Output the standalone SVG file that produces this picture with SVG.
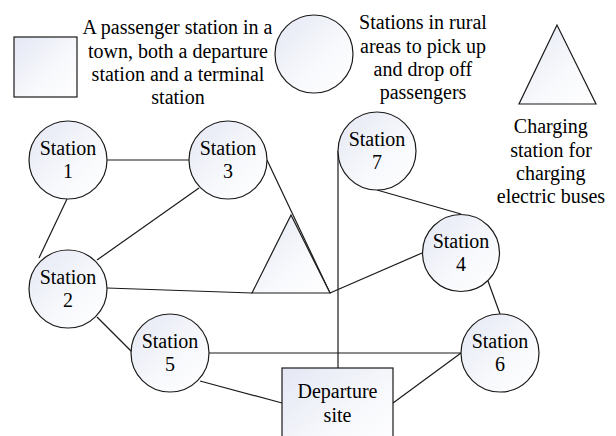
<svg xmlns="http://www.w3.org/2000/svg" width="616" height="436" viewBox="0 0 616 436">
<defs>
<linearGradient id="grad" x1="0" y1="0" x2="1" y2="1">
<stop offset="0" stop-color="#e4e7f4"/>
<stop offset="0.6" stop-color="#f8f9fc"/>
<stop offset="1" stop-color="#ffffff"/>
</linearGradient>
</defs>
<rect width="616" height="436" fill="#ffffff"/>
<g id="connectors" stroke="#1a1a1a" stroke-width="1.2" fill="none">
<line x1="107" y1="160" x2="189" y2="160"/>
<line x1="67" y1="199" x2="39" y2="258"/>
<line x1="199" y1="188" x2="97" y2="260"/>
<line x1="267" y1="160" x2="330" y2="293"/>
<line x1="107" y1="288" x2="252" y2="293"/>
<line x1="330" y1="293" x2="422" y2="253"/>
<line x1="338" y1="151" x2="338" y2="368"/>
<line x1="377" y1="190" x2="461" y2="214"/>
<line x1="488" y1="281" x2="500" y2="314"/>
<line x1="209" y1="353" x2="461" y2="353"/>
<line x1="97" y1="317" x2="132" y2="352"/>
<line x1="200" y1="381" x2="282" y2="403"/>
<line x1="393" y1="403" x2="461" y2="353"/>
</g>
<g font-size="20">
<g id="legend-town">
<rect fill="url(#grad)" stroke="#1a1a1a" stroke-width="1.2" x="14" y="37" width="63" height="60"/>
<text x="82.5" y="34" font-family="Liberation Serif">A passenger station in a</text>
<text x="88" y="58" font-family="Liberation Serif">town, both a departure</text>
<text x="91.6" y="81" font-family="Liberation Serif">station and a terminal</text>
<text x="151.3" y="104" font-family="Liberation Serif">station</text>
</g>
<g id="legend-rural">
<circle fill="url(#grad)" stroke="#1a1a1a" stroke-width="1.2" cx="314" cy="54" r="39"/>
<text x="359.1" y="29" font-family="Liberation Serif">Stations in rural</text>
<text x="360" y="53" font-family="Liberation Serif">areas to pick up</text>
<text x="373.6" y="76" font-family="Liberation Serif">and drop off</text>
<text x="379.7" y="99" font-family="Liberation Serif">passengers</text>
</g>
<g id="legend-charging">
<polygon fill="url(#grad)" stroke="#1a1a1a" stroke-width="1.2" points="557,25 519,104 596,104"/>
<text x="513.8" y="133" font-family="Liberation Serif">Charging</text>
<text x="510.2" y="157" font-family="Liberation Serif">station for</text>
<text x="516" y="180" font-family="Liberation Serif">charging</text>
<text x="496.8" y="203" font-family="Liberation Serif">electric buses</text>
</g>
<g id="station1"><circle fill="url(#grad)" stroke="#1a1a1a" stroke-width="1.2" cx="68" cy="160" r="39"/><text x="39.7" y="154.5" font-family="Liberation Serif">Station</text><text x="63" y="178" font-family="Liberation Serif">1</text></g>
<g id="station3"><circle fill="url(#grad)" stroke="#1a1a1a" stroke-width="1.2" cx="228" cy="160" r="39"/><text x="199.7" y="154.5" font-family="Liberation Serif">Station</text><text x="223" y="178" font-family="Liberation Serif">3</text></g>
<g id="station2"><circle fill="url(#grad)" stroke="#1a1a1a" stroke-width="1.2" cx="68" cy="289" r="39"/><text x="39.7" y="283.5" font-family="Liberation Serif">Station</text><text x="63" y="307" font-family="Liberation Serif">2</text></g>
<g id="station7"><circle fill="url(#grad)" stroke="#1a1a1a" stroke-width="1.2" cx="377" cy="151" r="39"/><text x="348.7" y="145.5" font-family="Liberation Serif">Station</text><text x="372" y="169" font-family="Liberation Serif">7</text></g>
<g id="station4"><circle fill="url(#grad)" stroke="#1a1a1a" stroke-width="1.2" cx="461" cy="253" r="38.5"/><text x="432.7" y="247.5" font-family="Liberation Serif">Station</text><text x="456" y="271" font-family="Liberation Serif">4</text></g>
<g id="station6"><circle fill="url(#grad)" stroke="#1a1a1a" stroke-width="1.2" cx="500" cy="353" r="39"/><text x="471.7" y="347.5" font-family="Liberation Serif">Station</text><text x="495" y="371" font-family="Liberation Serif">6</text></g>
<g id="station5"><circle fill="url(#grad)" stroke="#1a1a1a" stroke-width="1.2" cx="170" cy="353" r="39"/><text x="141.7" y="347.5" font-family="Liberation Serif">Station</text><text x="165" y="371" font-family="Liberation Serif">5</text></g>
<g id="charging-station"><polygon fill="url(#grad)" stroke="#1a1a1a" stroke-width="1.2" points="291,215 252,293 330,293"/></g>
<g id="departure-site"><rect fill="url(#grad)" stroke="#1a1a1a" stroke-width="1.2" x="282" y="368" width="111" height="90"/><text x="297.5" y="398" font-family="Liberation Serif">Departure</text><text x="323.6" y="422" font-family="Liberation Serif">site</text></g>
</g>
</svg>
